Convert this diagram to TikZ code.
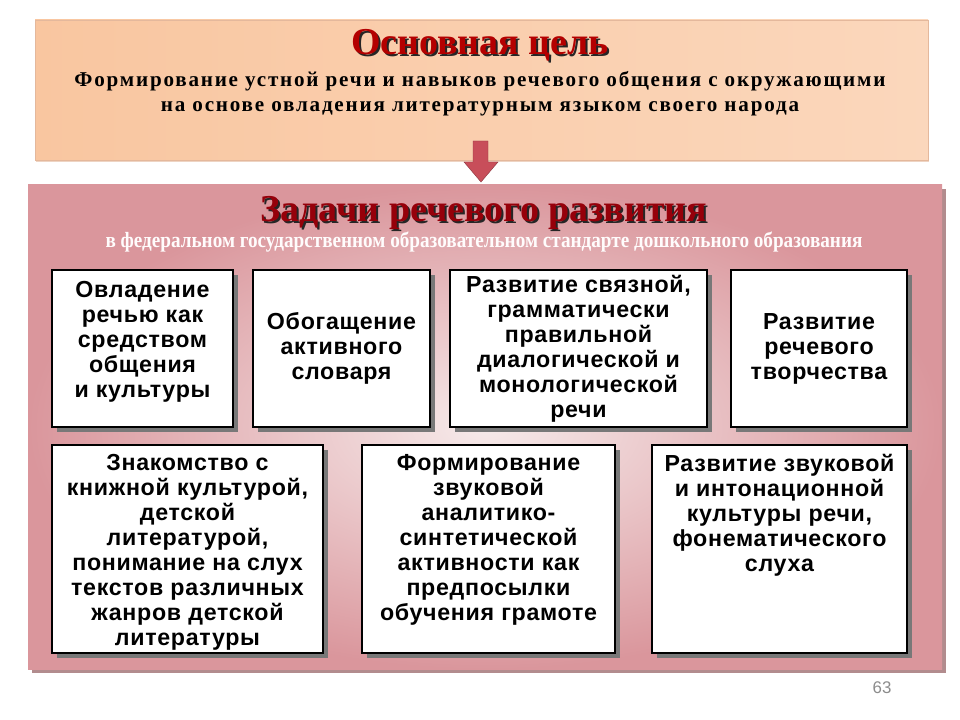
\documentclass[tikz,border=0pt]{standalone}
\usepackage{fontspec}
\usepackage{graphicx}
\setmainfont{Liberation Serif}
\newfontfamily\arialf[LetterSpace=3]{Liberation Sans}
\newfontfamily\arialplain{Liberation Sans}
\usetikzlibrary{positioning,fit,shadows}
\definecolor{celred}{RGB}{180,0,0}
\definecolor{zadred}{RGB}{150,0,10}
\definecolor{peach}{RGB}{249,198,160}
\definecolor{peachlight}{RGB}{253,236,222}
\definecolor{peachedge}{RGB}{228,184,156}
\definecolor{rosedark}{RGB}{218,150,156}
\definecolor{roselight}{RGB}{246,234,234}
\definecolor{roseshadow}{RGB}{178,140,142}
\definecolor{boxshadow}{RGB}{120,120,120}
\definecolor{arrowred}{RGB}{200,78,90}
\tikzset{
  zbox/.style={draw=black, line width=0.9pt, fill=white, inner sep=0pt,
    drop shadow={shadow xshift=3.5pt, shadow yshift=-3.5pt, fill=boxshadow, opacity=1}},
  ztext/.style={font=\arialf\bfseries\fontsize{16.5}{17.8}\selectfont, align=center, inner sep=0pt},
  bigtitle/.style={font=\bfseries\fontsize{27}{30}\selectfont, inner sep=0pt}
}
\begin{document}
\begin{tikzpicture}[x=0.025cm, y=-0.025cm]
\useasboundingbox[fill=white] (0,0) rectangle (960,720);
\path[left color=peach, middle color=peachlight, right color=peach!55!peachlight, draw=peachedge,
  drop shadow={shadow xshift=1pt, shadow yshift=-1.5pt, fill=peachedge, opacity=0.6}]
  (35,20) rectangle (928,160);
\node[bigtitle, text=black!85] (celshade) at (482,47) {Основная цель};
\node[bigtitle, text=celred] (cel) at (480,45) {Основная цель};
\node[font=\bfseries\fontsize{15}{17.5}\selectfont\addfontfeature{LetterSpace=8.5}, align=center, inner sep=0pt] (celtext) at (480,94)
  {Формирование устной речи и навыков речевого общения с окружающими\\на основе овладения литературным языком своего народа};
\path[fill=arrowred, draw=arrowred!70!black, line width=0.3pt]
  (473,141) -- (488,141) -- (488,162) -- (498,162) -- (481,182) -- (464,162) -- (473,162) -- cycle;
\shade[inner color=roselight, outer color=rosedark,
  drop shadow={shadow xshift=3pt, shadow yshift=-3pt, fill=roseshadow, opacity=1}]
  (28,185) rectangle (942,669);
\node[bigtitle, text=black!85] (zadshade) at (486,215) {Задачи речевого развития};
\node[bigtitle, text=zadred] (zad) at (484,213) {Задачи речевого развития};
\node[text=white!95!pink, inner sep=0pt] (zadsub) at (484,242)
  {\scalebox{0.88}[1]{\bfseries\fontsize{15.5}{17}\selectfont в федеральном государственном образовательном стандарте дошкольного образования}};
\foreach \n/\xa/\ya/\xb/\yb in {b1/52/270/233/427, b2/253/270/430/427, b3/450/270/707/427, b4/731/270/907/427,
  b5/52/445/323/653, b6/362/445/615/653, b7/652/445/907/653}
  \node[zbox, fit={(\xa,\ya) (\xb,\yb)}] (\n) {};
\node[ztext, yshift=5pt] (t1) at (b1.center) {Овладение\\речью как\\средством\\общения\\и культуры\hspace{1em}};
\node[ztext] (t2) at (b2.center) {Обогащение\\активного\\словаря};
\node[ztext] (t3) at (b3.center) {Развитие связной,\\грамматически\\правильной\\диалогической и\\монологической\\речи};
\node[ztext] (t4) at (b4.center) {Развитие\\речевого\\творчества};
\node[ztext, below=7pt of b5.north] (t5) {Знакомство с\\книжной культурой,\\детской\\литературой,\\понимание на слух\\текстов различных\\жанров детской\\литературы};
\node[ztext, below=7pt of b6.north] (t6) {Формирование\\звуковой\\аналитико-\\синтетической\\активности как\\предпосылки\\обучения грамоте};
\node[ztext, below=7pt of b7.north] (t7) {Развитие звуковой\\и интонационной\\культуры речи,\\фонематического\\слуха};
\node[font=\arialplain\fontsize{12}{14}\selectfont, text=black!45, inner sep=0pt] (num) at (882,688) {63};
\end{tikzpicture}
\end{document}
